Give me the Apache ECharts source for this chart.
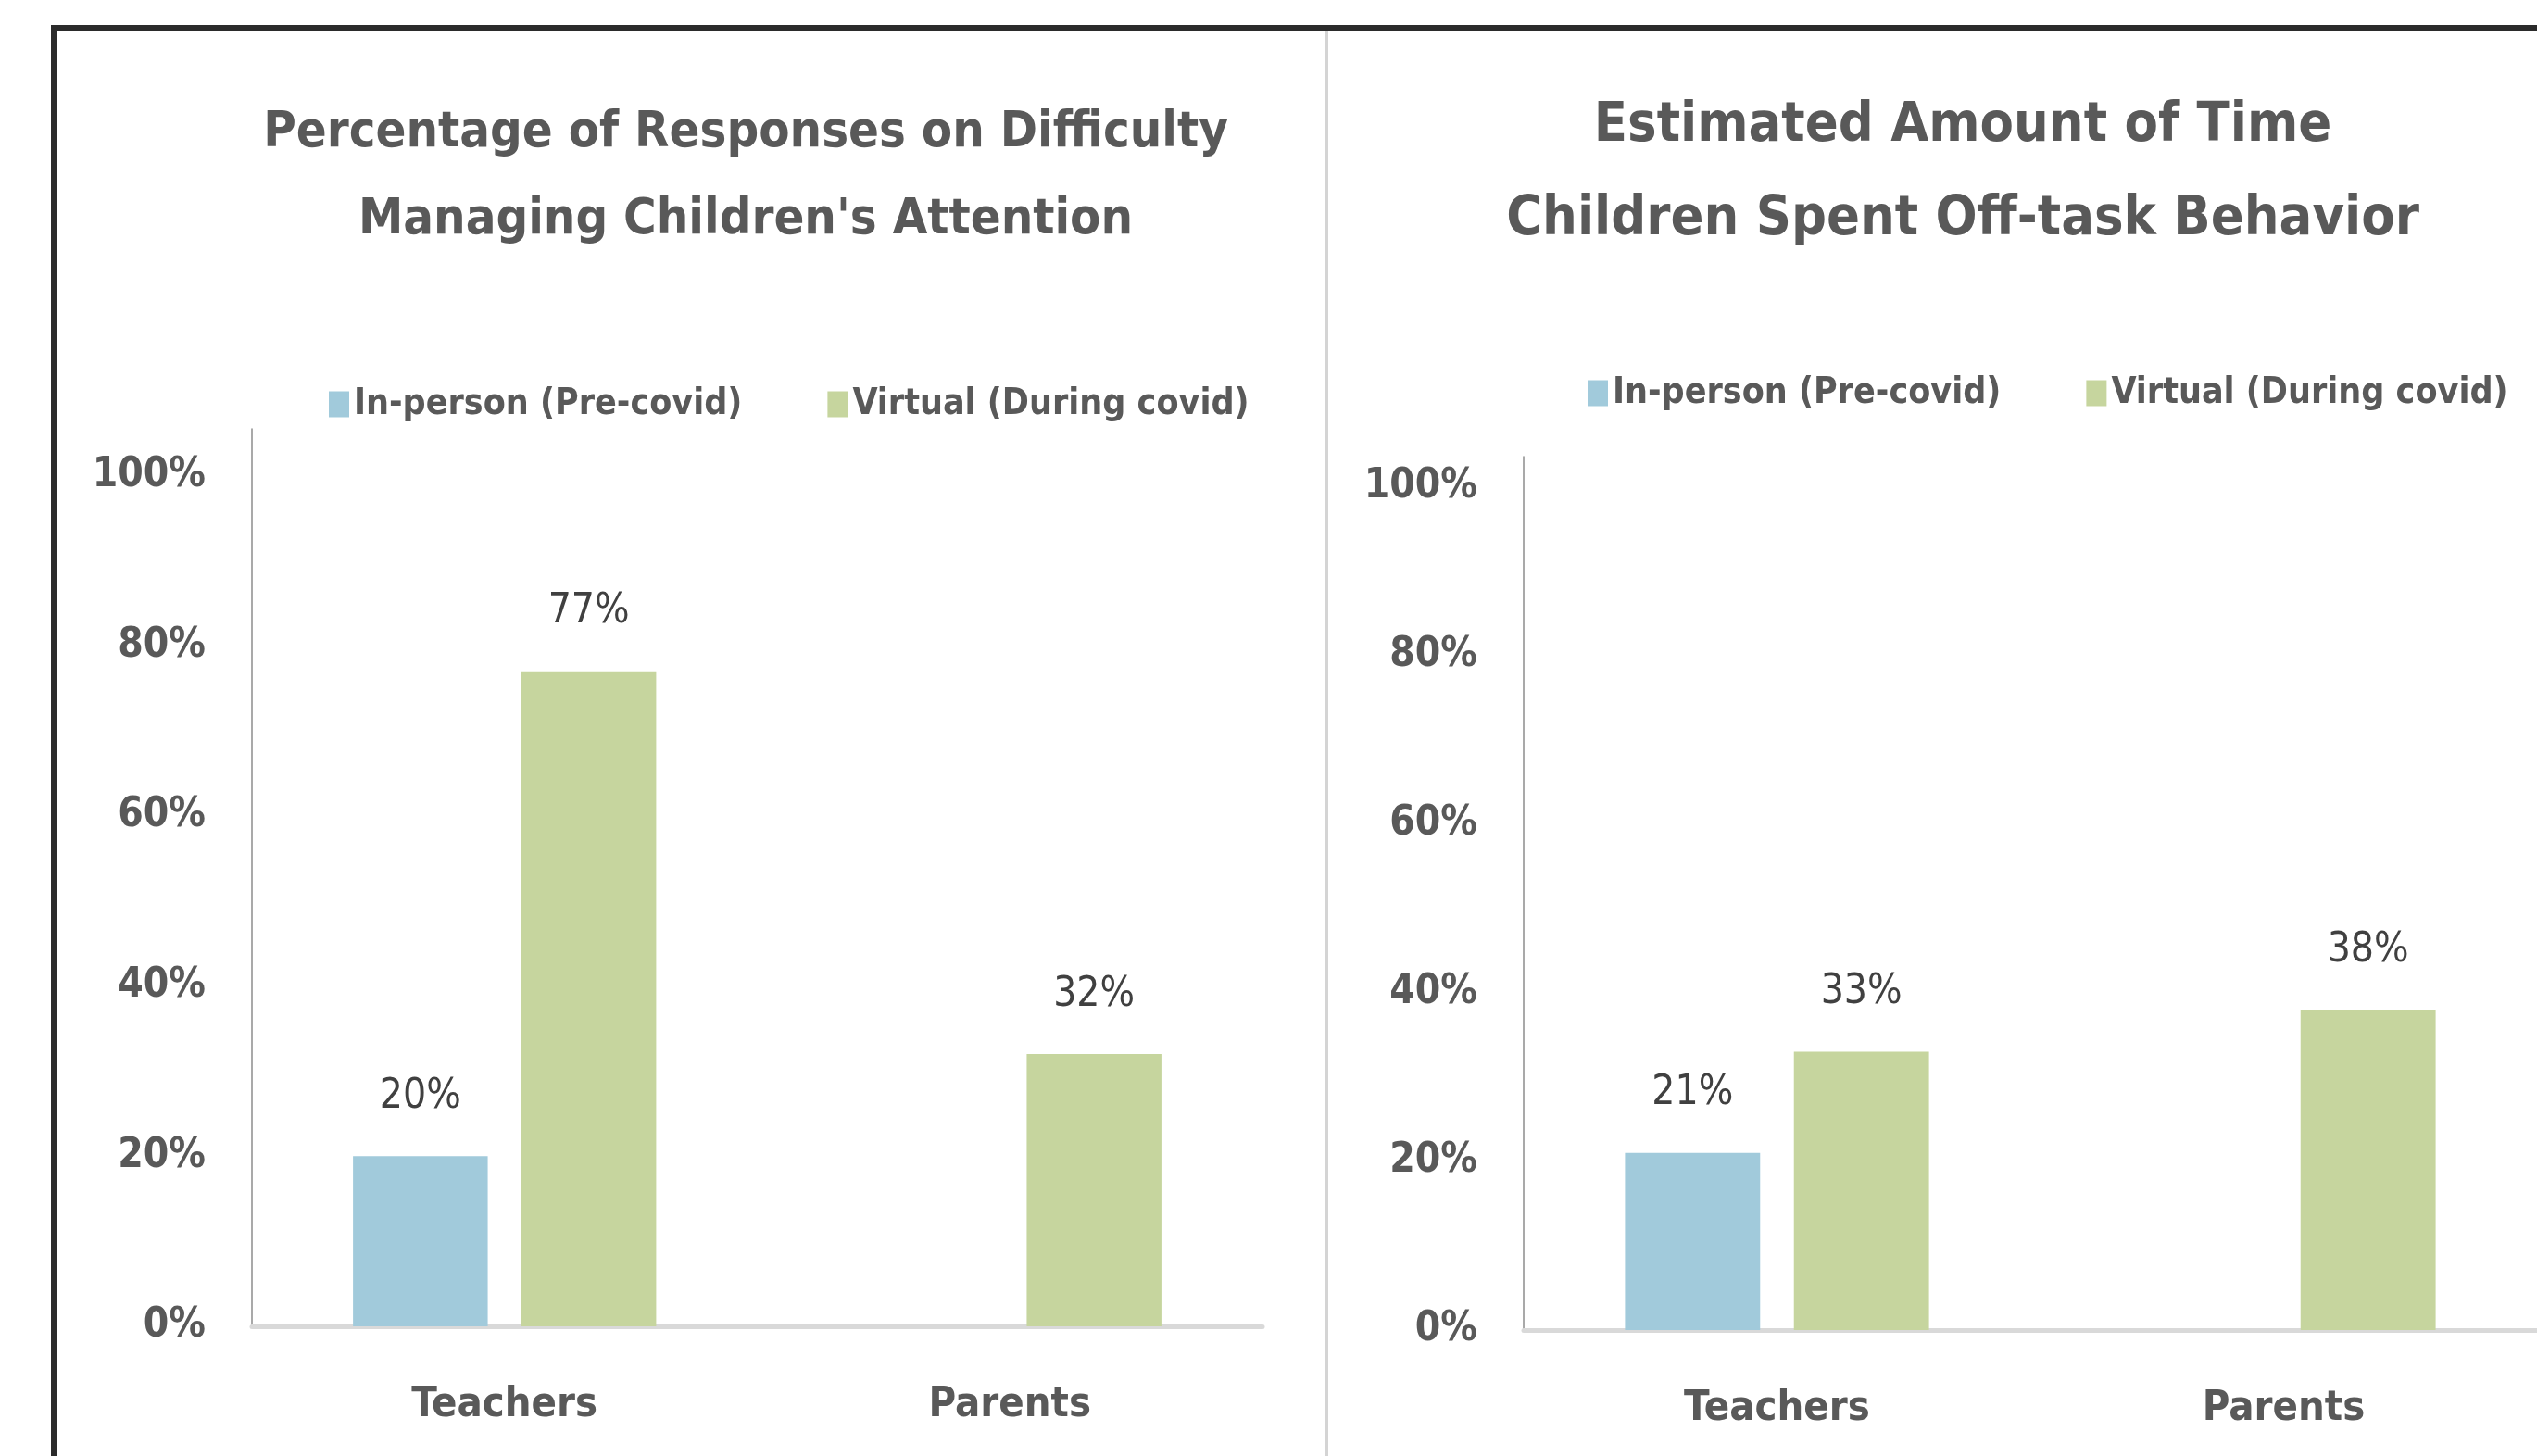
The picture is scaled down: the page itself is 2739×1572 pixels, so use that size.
<!DOCTYPE html>
<html>
<head>
<meta charset="utf-8">
<script src="https://cdn.jsdelivr.net/npm/echarts@6/dist/echarts.min.js"></script>
<style>
html,body{margin:0;padding:0;background:#fff;}
#chart{width:2739px;height:1572px;}
</style>
</head>
<body>
<div id="chart"></div>
<script>
// ---- data ----
const categories = ['Teachers', 'Parents'];
const seriesNames = ['In-person (Pre-covid)', 'Virtual (During covid)'];
const attentionInPerson = [0.20, null];
const attentionVirtual = [0.77, 0.32];
const offTaskInPerson = [0.21, null];
const offTaskVirtual = [0.33, 0.38];
const yTicks = [0, 0.2, 0.4, 0.6, 0.8, 1.0];
const titleLeft = ['Percentage of Responses on Difficulty', "Managing Children's Attention"];
const titleRight = ['Estimated Amount of Time', 'Children Spent Off-task Behavior'];

const FONT = "'DejaVu Sans Condensed', 'Liberation Sans', sans-serif";
const TEAL = '#A1CADB';
const GREEN = '#C6D59E';
const TXT = '#595959';
const DARK = '#404040';

const pct = v => Math.round(v * 100) + '%';
const tickFmt = v => {
  const hit = yTicks.some(t => Math.abs(t - v) < 1e-6);
  return hit ? pct(v) : '';
};

function yAxisCfg(gi, max) {
  return {
    type: 'value', gridIndex: gi, min: 0, max: max, interval: 0.2,
    splitLine: {show: false}, axisTick: {show: false},
    axisLine: {show: true, lineStyle: {color: '#8C8C8C', width: 1.5}},
    axisLabel: {formatter: tickFmt, showMaxLabel: false, margin: 50,
      fontFamily: FONT, fontSize: 44, fontWeight: 'bold', color: TXT}
  };
}
function xAxisCfg(gi) {
  return {
    type: 'category', gridIndex: gi, data: categories,
    axisTick: {show: false},
    axisLine: {show: true, lineStyle: {color: '#D9D9D9', width: 5}},
    axisLabel: {margin: 63, fontFamily: FONT, fontSize: 45, fontWeight: 'bold', color: TXT}
  };
}
function barSeries(name, data, gi, color) {
  return {
    name: name, type: 'bar', xAxisIndex: gi, yAxisIndex: gi, data: data,
    barGap: '25%', barCategoryGap: '40%',
    itemStyle: {color: color},
    label: {show: true, position: 'top', distance: 42,
      formatter: p => (p.value == null ? '' : pct(p.value)),
      fontFamily: FONT, fontSize: 44, color: DARK}
  };
}
function legendCfg(left, top) {
  return {
    left: left, top: top, width: 1100, itemWidth: 22, itemHeight: 28, itemGap: 92, icon: 'rect',
    data: seriesNames, selectedMode: false,
    textStyle: {fontFamily: FONT, fontSize: 39, fontWeight: 'bold', color: TXT}
  };
}
function titleText(lines, cx, cy, size, lh) {
  return {
    type: 'text', x: cx, y: cy, silent: true,
    style: {text: lines.join('\n'), align: 'center', verticalAlign: 'middle',
      fontFamily: FONT, fontSize: size, fontWeight: 'bold', fill: TXT, lineHeight: lh}
  };
}

const chart = echarts.init(document.getElementById('chart'));
chart.setOption({
  backgroundColor: '#fff',
  animation: false,
  color: [TEAL, GREEN],
  legend: [legendCfg(350, 412), legendCfg(1709, 400)],
  grid: [
    {left: 272, top: 463, width: 1091, height: 969},
    {left: 1645, top: 493, width: 1096, height: 943}
  ],
  xAxis: [xAxisCfg(0), xAxisCfg(1)],
  yAxis: [yAxisCfg(0, 1.055), yAxisCfg(1, 1.036)],
  series: [
    barSeries(seriesNames[0], attentionInPerson, 0, TEAL),
    barSeries(seriesNames[1], attentionVirtual, 0, GREEN),
    barSeries(seriesNames[0], offTaskInPerson, 1, TEAL),
    barSeries(seriesNames[1], offTaskVirtual, 1, GREEN)
  ],
  graphic: [
    {type: 'rect', silent: true, shape: {x: 55, y: 27, width: 2700, height: 6}, style: {fill: '#2B2B2B'}},
    {type: 'rect', silent: true, shape: {x: 55, y: 27, width: 7, height: 1560}, style: {fill: '#2B2B2B'}},
    {type: 'rect', silent: true, shape: {x: 1430, y: 33, width: 4, height: 1560}, style: {fill: '#D4D4D4'}},
    titleText(titleLeft, 805, 191, 54, 94),
    titleText(titleRight, 2119, 187, 59, 101)
  ]
});
</script>
</body>
</html>
